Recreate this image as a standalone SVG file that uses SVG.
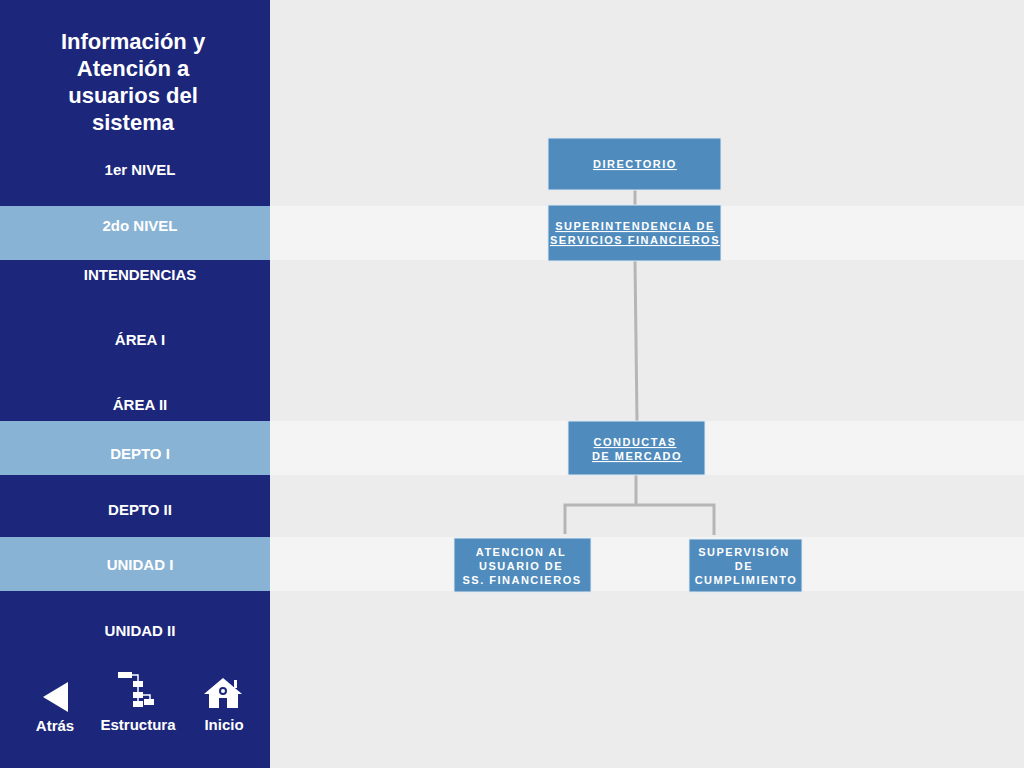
<svg xmlns="http://www.w3.org/2000/svg" width="1024" height="768" viewBox="0 0 1024 768">
<style>
.side{font-family:"Liberation Sans",Arial,sans-serif;fill:#fff;font-size:15px;font-weight:bold;text-anchor:middle}
.box{fill:#4f8bbd;stroke:#dfe9f3;stroke-width:1}
.bt{font-family:"Liberation Sans",Arial,sans-serif;fill:#fff;font-size:11px;font-weight:bold;letter-spacing:1.5px;text-anchor:middle}
.u{text-decoration:underline}
.ln{stroke:#b5b5b5;stroke-width:3;fill:none}
.ic{fill:#fff}
</style>
<rect width="1024" height="768" fill="#ececec"/>
<rect x="270" y="206" width="754" height="54" fill="#f4f4f4"/>
<rect x="270" y="421" width="754" height="54" fill="#f4f4f4"/>
<rect x="270" y="537" width="754" height="54" fill="#f4f4f4"/>
<g id="sidebar">
<rect width="270" height="768" fill="#1c277b"/>
<rect y="206" width="270" height="54" fill="#89b3d4"/>
<rect y="421" width="270" height="54" fill="#89b3d4"/>
<rect y="537" width="270" height="54" fill="#89b3d4"/>
<g class="side" style="font-size:22px">
<text x="133" y="49">Información y</text><text x="133" y="76">Atención a</text><text x="133" y="103">usuarios del</text><text x="133" y="130">sistema</text>
</g>
<text class="side" x="140" y="175">1er NIVEL</text>
<text class="side" x="140" y="231">2do NIVEL</text>
<text class="side" x="140" y="280">INTENDENCIAS</text>
<text class="side" x="140" y="345">ÁREA I</text>
<text class="side" x="140" y="410">ÁREA II</text>
<text class="side" x="140" y="459">DEPTO I</text>
<text class="side" x="140" y="515">DEPTO II</text>
<text class="side" x="140" y="570">UNIDAD  I</text>
<text class="side" x="140" y="636">UNIDAD II</text>
</g>
<g id="nav">
<polygon class="ic" points="43,697 68,682 68,712"/>
<text class="side" x="55" y="731">Atrás</text>
<g class="ic"><rect x="118" y="672" width="14" height="6"/><rect x="133" y="681" width="10" height="6"/><rect x="133" y="692" width="10" height="6"/><rect x="133" y="701" width="10" height="6"/><rect x="144" y="699" width="10" height="6"/></g>
<path d="M125,678 V675 H138 V701 M138,695 H150 V699" stroke="#fff" stroke-width="1.5" fill="none"/>
<text class="side" x="138" y="730">Estructura</text>
<path class="ic" d="M204,694 L223,678 L242,694 L238,694 L238,708 L209,708 L209,694 Z"/>
<rect class="ic" x="234" y="680" width="3" height="8"/>
<circle cx="223" cy="691" r="3" fill="none" stroke="#1c277b" stroke-width="2"/>
<rect x="219" y="698" width="8" height="10" fill="#1c277b"/>
<text class="side" x="224" y="730">Inicio</text>
</g>
<g id="connectors">
<path class="ln" d="M635,190 V205 M635,261 L637,421 M636,475 V505 H565 V534 M636,505 H714 V535"/>
</g>
<g id="directorio"><rect class="box" x="548" y="138" width="173" height="52"/><text class="bt u" x="635" y="168">DIRECTORIO</text></g>
<g id="sfs"><rect class="box" x="548" y="205" width="173" height="56"/><text class="bt u" x="635" y="230">SUPERINTENDENCIA DE</text><text class="bt u" x="635" y="244">SERVICIOS FINANCIEROS</text></g>
<g id="conductas"><rect class="box" x="568" y="421" width="137" height="54"/><text class="bt u" x="635" y="446">CONDUCTAS </text><text class="bt u" x="637" y="460">DE MERCADO</text></g>
<g id="atencion"><rect class="box" x="454" y="538" width="137" height="54"/><text class="bt" x="521" y="556">ATENCION AL</text><text class="bt" x="521" y="570">USUARIO DE</text><text class="bt" x="522" y="584">SS. FINANCIEROS</text></g>
<g id="supervision"><rect class="box" x="689" y="539" width="113" height="53"/><text class="bt" x="744" y="556">SUPERVISIÓN</text><text class="bt" x="744" y="570">DE</text><text class="bt" x="746" y="584">CUMPLIMIENTO</text></g>
</svg>
